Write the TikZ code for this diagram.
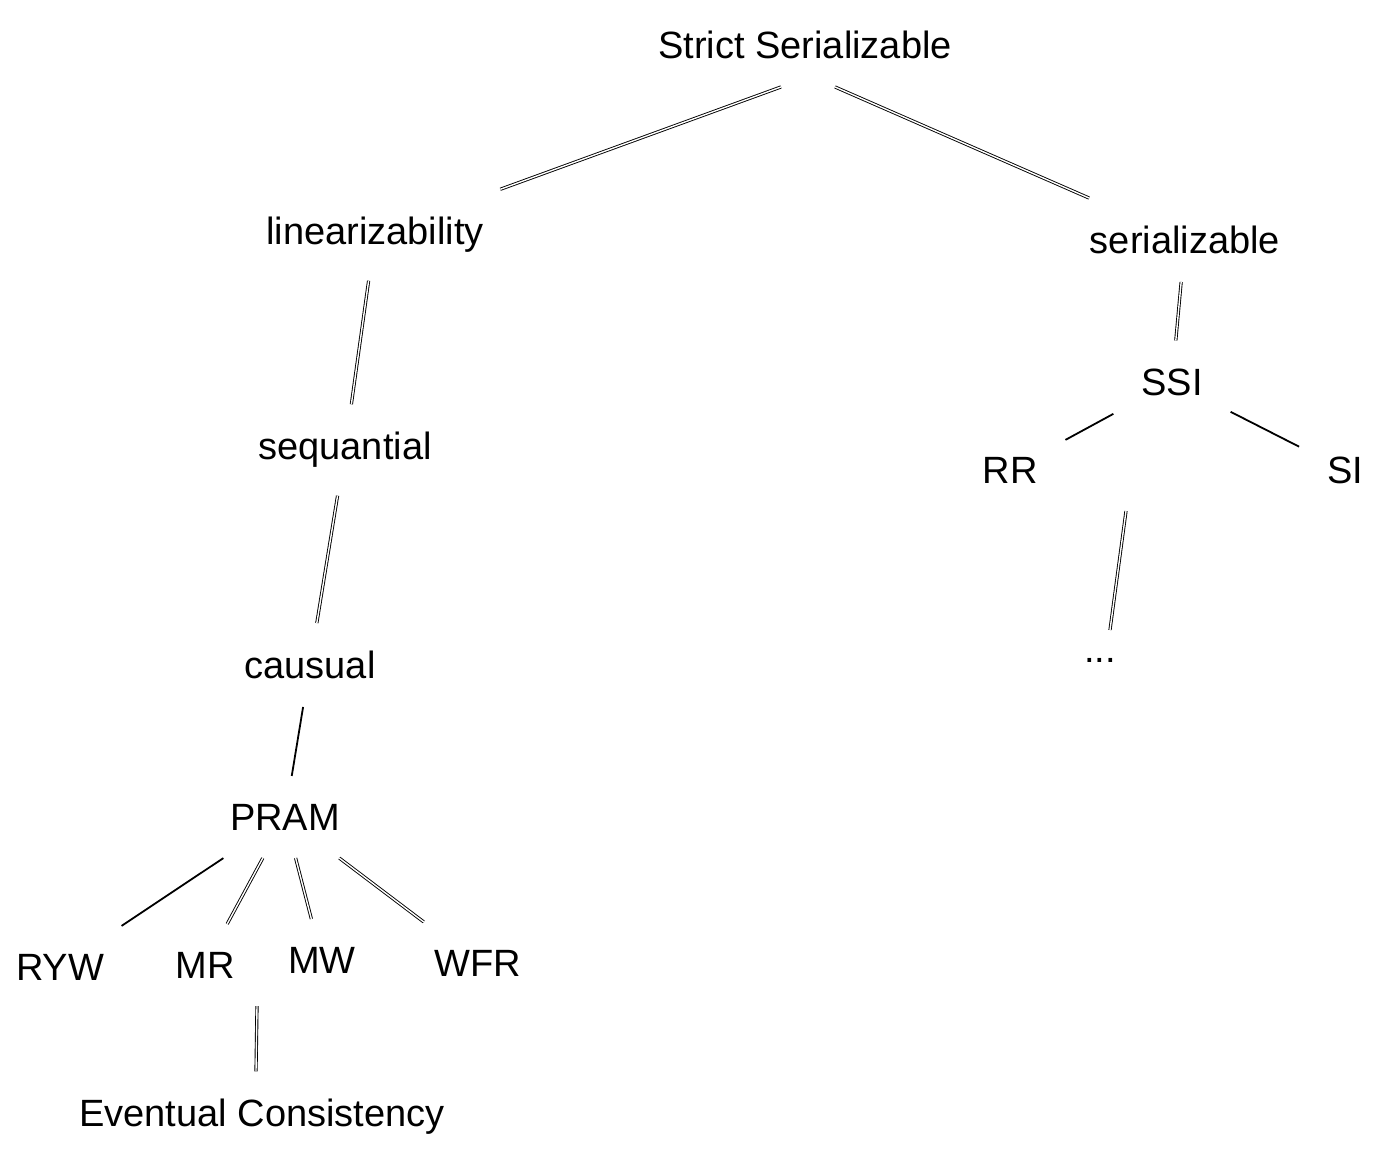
\documentclass[tikz,border=0pt]{standalone}
\usepackage{fontspec}
\setmainfont{Liberation Sans}
\begin{document}
\begin{tikzpicture}[x=0.5pt,y=-0.5pt]
  \tikzstyle{every node}=[font=\fontsize{19}{22}\selectfont,inner sep=0,outer sep=14]
  \tikzstyle{link}=[draw,double,double distance=0.7pt,line width=0.45pt]
  \tikzstyle{plain}=[draw,line width=0.9pt]
  \useasboundingbox (0,0) rectangle (1389,1163);
  {
    \node (strict) at (805,45) {Strict Serializable};
    \node (linear) at (375,235) {linearizability};
    \node (serial) at (1185,240) {serializable};
    \node (seq) at (345,450) {sequantial};
    \node (ssi) at (1172,382) {SSI};
    \node (rr) at (1010,470) {RR};
    \node (si) at (1345,470) {SI};
    \node (dots) at (1100,660) {...};
    \node (causal) at (310,665) {causual};
    \node (pram) at (285,817) {PRAM};
    \node (ryw) at (60,967) {RYW};
    \node (mr) at (205,965) {MR};
    \node (mw) at (322,960) {MW};
    \node (wfr) at (478,963) {WFR};
    \node (ec) at (262,1117) {Eventual Consistency};

    \path ([xshift=-12]strict.south) edge[link] (linear)
          ([xshift=15]strict.south) edge[link] (serial)
          (linear) edge[link] (seq)
          (serial) edge[link] (ssi)
          (ssi) edge[plain] (rr)
          (ssi) edge[plain] (si)
          ([xshift=58]rr.south) edge[link] ([xshift=5]dots.north)
          (seq) edge[link] (causal)
          (causal) edge[plain] (pram)
          (pram) edge[plain] (ryw)
          (pram) edge[link] (mr)
          (pram) edge[link] (mw)
          (pram) edge[link] (wfr)
          ([xshift=26]mr.south) edge[link] ([xshift=-3]ec.north);
  }
\end{tikzpicture}
\end{document}
